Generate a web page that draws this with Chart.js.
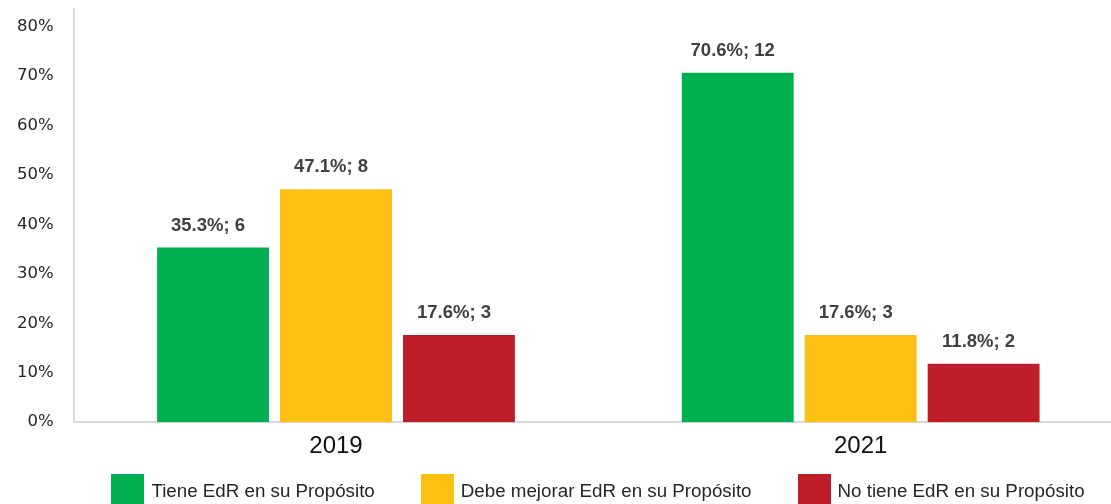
<!DOCTYPE html>
<html lang="es">
<head>
  <meta charset="UTF-8">
  <title>EdR en su Propósito</title>
  <script src="https://cdn.jsdelivr.net/npm/chart.js"></script>
  <style>
    html, body {
      margin: 0;
      padding: 0;
      background: #ffffff;
      overflow: hidden;
    }

    .chart-container {
      width: 1124px;
      height: 504px;
      position: relative;
    }

    #legend {
      position: absolute;
      left: 73px;
      width: 1050px;
      top: 474px;
      display: flex;
      justify-content: center;
      gap: 46px;
      font-family: "Liberation Sans", Arial, sans-serif;
      font-size: 18.75px;
      color: #262626;
    }

    .legend-item {
      display: flex;
      align-items: center;
      line-height: 33px;
    }

    .legend-box {
      width: 33px;
      height: 33px;
      margin-right: 7px;
    }
  </style>
</head>
<body>

  <div class="chart-container">
    <canvas id="edrChart"></canvas>
    <div id="legend"></div>
  </div>

  <script>
    const years = ["2019", "2021"];
    const seriesNames = ["Tiene EdR en su Propósito", "Debe mejorar EdR en su Propósito", "No tiene EdR en su Propósito"];
    const tiene = [35.3, 70.6];
    const debeMejorar = [47.1, 17.6];
    const noTiene = [17.6, 11.8];
    const tieneCount = [6, 12];
    const debeMejorarCount = [8, 3];
    const noTieneCount = [3, 2];
    const yTicks = [0, 10, 20, 30, 40, 50, 60, 70, 80];

    const colors = ['#00b050', '#fcbf12', '#be1e2a'];
    const counts = [tieneCount, debeMejorarCount, noTieneCount];

    // draws "35.3%; 6" above every bar
    const barLabels = {
      id: 'barLabels',
      afterDatasetsDraw(chart) {
        const ctx = chart.ctx;
        ctx.save();
        ctx.font = 'bold 18.5px "Liberation Sans", Arial, sans-serif';
        ctx.fillStyle = '#404040';
        ctx.textAlign = 'center';
        ctx.textBaseline = 'middle';
        chart.data.datasets.forEach((ds, i) => {
          chart.getDatasetMeta(i).data.forEach((bar, j) => {
            const txt = ds.data[j].toFixed(1) + '%; ' + counts[i][j];
            ctx.fillText(txt, bar.x - 5, bar.y - 22);
          });
        });
        ctx.restore();
      }
    };

    // html legend built from the chart's own legend items
    const htmlLegend = {
      id: 'htmlLegend',
      afterUpdate(chart) {
        const box = document.getElementById('legend');
        box.innerHTML = '';
        const items = chart.options.plugins.legend.labels.generateLabels(chart);
        items.forEach(item => {
          const el = document.createElement('div');
          el.className = 'legend-item';
          const sw = document.createElement('span');
          sw.className = 'legend-box';
          sw.style.background = item.fillStyle;
          const txt = document.createElement('span');
          txt.textContent = item.text;
          el.appendChild(sw);
          el.appendChild(txt);
          box.appendChild(el);
        });
      }
    };

    new Chart(document.getElementById('edrChart'), {
      type: 'bar',
      data: {
        labels: years,
        datasets: [
          { label: seriesNames[0], data: tiene, backgroundColor: colors[0] },
          { label: seriesNames[1], data: debeMejorar, backgroundColor: colors[1] },
          { label: seriesNames[2], data: noTiene, backgroundColor: colors[2] }
        ]
      },
      options: {
        responsive: true,
        maintainAspectRatio: false,
        animation: false,
        categoryPercentage: 0.703,
        barPercentage: 0.91,
        layout: {
          padding: { left: -3, right: 1, top: 0, bottom: 33 }
        },
        plugins: {
          tooltip: { enabled: false },
          legend: { display: false }
        },
        scales: {
          x: {
            grid: { display: false, drawTicks: false },
            border: { display: true, color: '#d9d9d9', width: 2 },
            ticks: {
              color: '#111111',
              padding: 10,
              font: { family: '"Liberation Sans", Arial, sans-serif', size: 24 }
            }
          },
          y: {
            min: 0,
            max: 83.5,
            grid: { display: false, drawTicks: false },
            border: { display: true, color: '#d9d9d9', width: 2 },
            afterBuildTicks: (axis) => {
              axis.ticks = yTicks.map(v => ({ value: v }));
            },
            // tick padding would otherwise push the plot top down
            afterFit: (axis) => {
              axis.paddingTop = 9;
            },
            ticks: {
              color: '#262626',
              padding: 20,
              font: { family: '"DejaVu Sans", sans-serif', size: 16.5 },
              callback: (v) => v + '%'
            }
          }
        }
      },
      plugins: [barLabels, htmlLegend]
    });
  </script>

</body>
</html>
